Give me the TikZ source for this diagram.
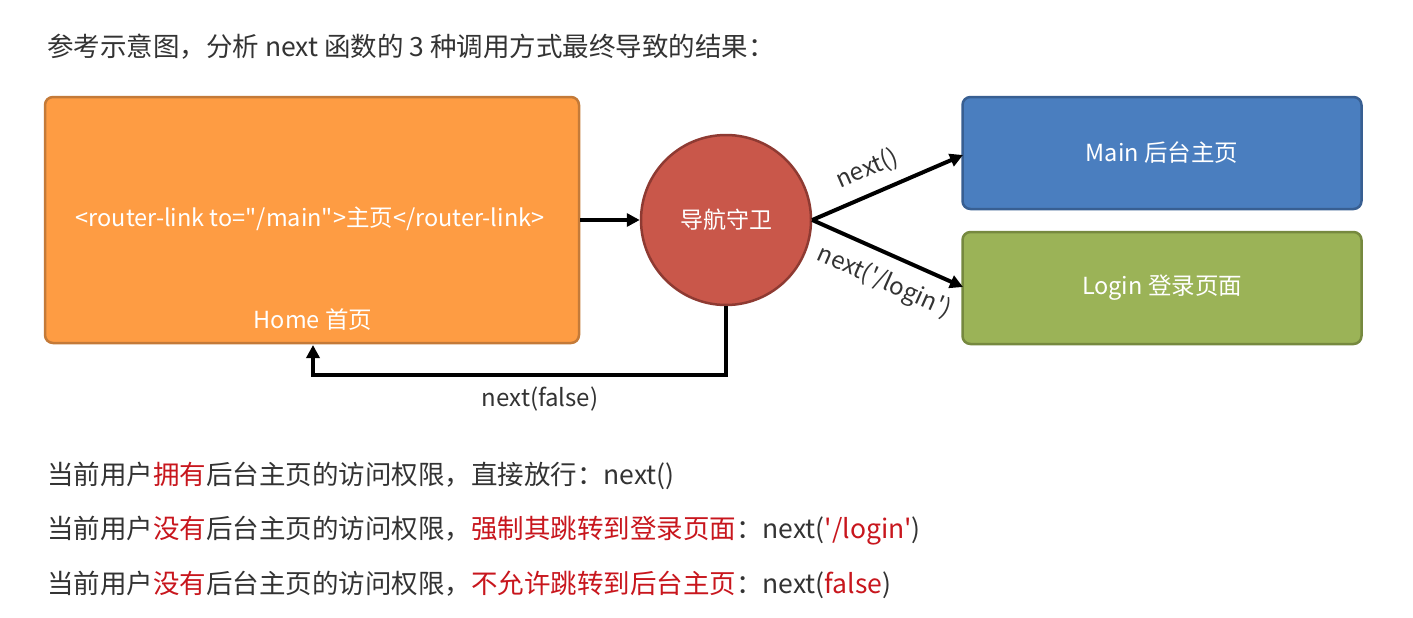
\documentclass[tikz,border=0pt]{standalone}
\usepackage{fontspec}
\setmainfont{Noto Sans CJK SC}[Ligatures=TeXOff]
\usetikzlibrary{arrows.meta}
\definecolor{homefill}{HTML}{FE9C43}
\definecolor{homedraw}{HTML}{C47A38}
\definecolor{guardfill}{HTML}{C9574A}
\definecolor{guarddraw}{HTML}{8E3A32}
\definecolor{mainfill}{HTML}{4A7EBF}
\definecolor{maindraw}{HTML}{385F92}
\definecolor{loginfill}{HTML}{9BB357}
\definecolor{logindraw}{HTML}{76893F}
\definecolor{txt}{HTML}{333333}
\definecolor{hl}{HTML}{C8161D}
\tikzset{
  box/.style={draw, line width=2.5pt, rounded corners=8pt, inner sep=0pt},
  boxtext/.style={text=white, font=\fontsize{23.5}{28}\selectfont, inner sep=0pt},
  conn/.style={line width=4pt, -{Triangle[length=13pt,width=13pt]}},
  elabel/.style={text=txt, font=\fontsize{24}{28}\selectfont, inner sep=2pt},
  plain/.style={text=txt, font=\fontsize{26.5}{31}\selectfont, anchor=west, inner sep=0pt},
}
\begin{document}
\begin{tikzpicture}[x=1pt,y=-1pt]
\useasboundingbox[fill=white] (0,0) rectangle (1413,618);
\node[plain] (title) at (47,47) {参考示意图，分析 next 函数的 3 种调用方式最终导致的结果：};
\node[box, fill=homefill, draw=homedraw, minimum width=534pt, minimum height=246pt] (home) at (312,220) {};
\node[boxtext] (homecode) at (310,219) {<router-link to="/main">主页</router-link>};
\node[boxtext] (homelbl) at (313,320) {Home 首页};
\node[circle, draw=guarddraw, line width=2.5pt, fill=guardfill, minimum size=170pt, inner sep=0pt, text=white, font=\fontsize{23}{27}\selectfont] (guard) at (726,220) {导航守卫};
\node[box, fill=mainfill, draw=maindraw, minimum width=399pt, minimum height=112pt, boxtext, text=white] (main) at (1162,153) {Main 后台主页};
\node[box, fill=loginfill, draw=logindraw, minimum width=399pt, minimum height=112pt, boxtext, text=white] (login) at (1162,288) {Login 登录页面};
\coordinate (mainin) at (963,155);
\coordinate (loginin) at (963,287);
\coordinate (homein) at (313,345);
\draw[conn] (home.east |- guard) -- (guard.west);
\draw[conn] (guard.east) -- node[elabel, sloped, above=9pt, pos=0.43] {next()} (mainin);
\draw[conn] (guard.east) -- node[elabel, sloped, below=11pt, pos=0.55] {next('/login')} (loginin);
\draw[conn] (guard.south) -- (guard.south |- 0,375) -- node[elabel, below=8pt, pos=0.45] {next(false)} (313,375) -- (homein);
\node[plain] (l1) at (47,476) {当前用户\textcolor{hl}{拥有}后台主页的访问权限，直接放行：next()};
\node[plain] (l2) at (47,531) {当前用户\textcolor{hl}{没有}后台主页的访问权限，\textcolor{hl}{强制其跳转到登录页面}：next(\textcolor{hl}{'/login'})};
\node[plain] (l3) at (47,585) {当前用户\textcolor{hl}{没有}后台主页的访问权限，\textcolor{hl}{不允许跳转到后台主页}：next(\textcolor{hl}{false})};
\end{tikzpicture}
\end{document}
